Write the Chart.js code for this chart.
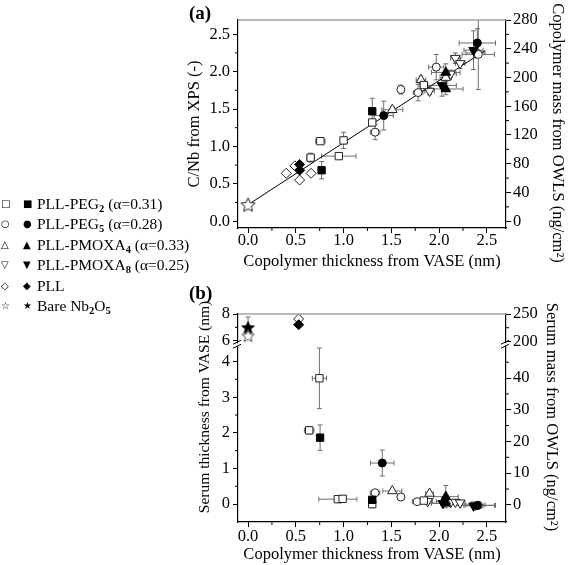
<!DOCTYPE html>
<html><head><meta charset="utf-8">
<script src="https://cdn.jsdelivr.net/npm/chart.js@4.4.0/dist/chart.umd.min.js"></script>
<style>
html,body{margin:0;padding:0;background:#fff;width:568px;height:565px;overflow:hidden;font-family:"Liberation Serif","Times New Roman",serif;}
#wrapA{position:absolute;left:0;top:0;width:568px;height:280px;}
#wrapB{position:absolute;left:0;top:280px;width:568px;height:285px;}
.plab{position:absolute;font-weight:bold;font-size:19px;line-height:20px;}
.row{position:absolute;left:0;height:20px;line-height:20px;white-space:nowrap;font-size:15.5px;}
.sym{position:absolute;top:0;font-family:"DejaVu Sans";font-size:10px;line-height:20px;}
.txt{position:absolute;left:37px;top:0;}
sub{font-size:10.5px;font-weight:bold;vertical-align:-3px;line-height:0;}
</style></head><body>
<div id="wrapA"><canvas id="cA" width="568" height="280"></canvas></div>
<div id="wrapB"><canvas id="cB" width="568" height="285"></canvas></div>
<div class="plab" style="left:189px;top:3px;">(a)</div>
<div class="plab" style="left:189px;top:283px;">(b)</div>
<div id="legend"></div>
<script>
// ---------------- tick labels ----------------
const xTicks = [0, 0.5, 1.0, 1.5, 2.0, 2.5];
const cnbTicks = [0, 0.5, 1.0, 1.5, 2.0, 2.5];
const massTicksA = [0, 40, 80, 120, 160, 200, 240, 280];
const serumTicksLow = [0, 1, 2, 3, 4];
const serumTicksHigh = [6, 8];
const serumMassLow = [0, 10, 20, 30, 40];
const serumMassHigh = [200, 250];

// ---------------- legend ----------------
const legendOpen = ['\u25A1', '\u25CB', '\u25B3', '\u25BD', '\u25C7', '\u2606'];
const legendFilled = ['\u25A0', '\u25CF', '\u25B2', '\u25BC', '\u25C6', '\u2605'];
const legendLabels = ['PLL-PEG<sub>2</sub> (\u03B1=0.31)', 'PLL-PEG<sub>5</sub> (\u03B1=0.28)',
  'PLL-PMOXA<sub>4</sub> (\u03B1=0.33)', 'PLL-PMOXA<sub>8</sub> (\u03B1=0.25)', 'PLL', 'Bare Nb<sub>2</sub>O<sub>5</sub>'];

// ---------------- panel (a): C/Nb (open, left) & copolymer mass (filled, right) ----------------
const fitX = [0, 2.48];
const fitY = [0.22, 2.28];

const a_peg2_x = [0.655, 0.757, 0.95, 1.00, 1.30, 1.84];
const a_peg2_y = [0.85, 1.07, 0.87, 1.08, 1.32, 1.82];
const a_peg2_ex = [0.04, 0.05, 0.18, 0.03, 0.03, 0.04];
const a_peg2_ey = [0.06, 0.03, 0.03, 0.11, 0.04, 0.04];
const a_peg2f_x = [0.77, 1.30];
const a_peg2f_m = [71, 153];
const a_peg2f_ex = [0.02, 0.02];
const a_peg2f_em = [12, 18];

const a_peg5_x = [1.33, 1.60, 1.78, 1.97, 2.41];
const a_peg5_y = [1.19, 1.76, 1.72, 2.06, 2.23];
const a_peg5_ex = [0.05, 0.02, 0.05, 0.08, 0.17];
const a_peg5_ey = [0.10, 0.06, 0.11, 0.17, 0.47];
const a_peg5f_x = [1.42, 2.40];
const a_peg5f_m = [147, 248];
const a_peg5f_ex = [0.10, 0.19];
const a_peg5f_em = [20, 20];

const a_mox4_x = [1.51, 1.81, 2.07];
const a_mox4_y = [1.49, 1.89, 1.92];
const a_mox4_ex = [0.11, 0.05, 0.06];
const a_mox4_ey = [0.04, 0.05, 0.05];
const a_mox4f_x = [2.07, 2.07];
const a_mox4f_m = [207, 184];
const a_mox4f_ex = [0.15, 0.18];
const a_mox4f_em = [12, 8];

const a_mox8_x = [1.90, 2.12, 2.17, 2.22, 2.38];
const a_mox8_y = [1.74, 1.97, 2.18, 2.11, 2.25];
const a_mox8_ex = [0.05, 0.06, 0.05, 0.05, 0.10];
const a_mox8_ey = [0.05, 0.05, 0.07, 0.07, 0.05];
const a_mox8f_x = [2.03, 2.36];
const a_mox8f_m = [189, 238];
const a_mox8f_ex = [0.15, 0.10];
const a_mox8f_em = [15, 27];

const a_pll_x = [0.40, 0.49, 0.54, 0.66];
const a_pll_y = [0.64, 0.74, 0.55, 0.64];
const a_pll_ex = [0.02, 0.02, 0.02, 0.02];
const a_pll_ey = [0.02, 0.02, 0.03, 0.02];
const a_pllf_x = [0.54, 0.54];
const a_pllf_m = [79, 71];
const a_pllf_ex = [0.02, 0.02];
const a_pllf_em = [3, 3];

const a_bare_x = [0];
const a_bare_y = [0.22];
const a_baref_x = [0];
const a_baref_m = [23];

// ---------------- panel (b): serum thickness (open, left) & serum mass (filled, right) ----------------
const b_peg2_x = [0.64, 0.747, 0.94, 0.99, 1.30, 1.84];
const b_peg2_y = [2.07, 3.53, 0.14, 0.15, 0.00, 0.10];
const b_peg2_ex = [0.05, 0.074, 0.20, 0.03, 0.02, 0.05];
const b_peg2_ey = [0.10, 0.85, 0.02, 0.02, 0.10, 0.03];
const b_peg2f_x = [0.754, 1.30];
const b_peg2f_m = [21.2, 1.6];
const b_peg2f_ex = [0.02, 0.02];
const b_peg2f_em = [4.0, 1.0];

const b_peg5_x = [1.33, 1.60, 1.77, 2.41];
const b_peg5_y = [0.32, 0.20, 0.07, -0.03];
const b_peg5_ex = [0.05, 0.02, 0.05, 0.18];
const b_peg5_ey = [0.04, 0.03, 0.03, 0.03];
const b_peg5f_x = [1.405, 2.40];
const b_peg5f_m = [13.2, -0.2];
const b_peg5f_ex = [0.123, 0.18];
const b_peg5f_em = [4.1, 0.5];

const b_mox4_x = [1.51, 1.90, 2.07];
const b_mox4_y = [0.37, 0.30, 0.08];
const b_mox4_ex = [0.10, 0.04, 0.10];
const b_mox4_ey = [0.03, 0.03, 0.03];
const b_mox4f_x = [2.07, 2.07];
const b_mox4f_m = [2.6, 0.5];
const b_mox4f_ex = [0.13, 0.15];
const b_mox4f_em = [3.5, 0.5];

const b_mox8_x = [1.88, 2.12, 2.17, 2.22, 2.38];
const b_mox8_y = [0.08, 0.05, 0.06, 0.04, -0.02];
const b_mox8_ex = [0.05, 0.06, 0.05, 0.05, 0.10];
const b_mox8_ey = [0.02, 0.02, 0.02, 0.02, 0.02];
const b_mox8f_x = [2.04, 2.36];
const b_mox8f_m = [0.5, -0.3];
const b_mox8f_ex = [0.15, 0.10];
const b_mox8f_em = [0.5, 0.5];

const b_pll_x = [0.53];
const b_pll_y = [7.63];
const b_pllf_x = [0.53];
const b_pllf_m = [230.5];

const b_bare_x = [0];
const b_bare_y = [6.37];
const b_bare_ey = [0.15];
const b_baref_x = [0];
const b_baref_m = [225.5];
const b_baref_em = [19];

// ---------------- helpers ----------------
const FONT = '"Liberation Serif", "Times New Roman", serif';
const FS = 16.5;

document.getElementById('legend').innerHTML = legendLabels.map((t, i) => {
  const top = 194 + i * 20.4;
  return `<div class="row" style="top:${top}px"><span class="sym" style="left:1px">${legendOpen[i]}</span>` +
    `<span class="sym" style="left:23px">${legendFilled[i]}</span><span class="txt">${t}</span></div>`;
}).join('');

function starCanvas(size, filled) {
  const c = document.createElement('canvas'); c.width = size; c.height = size;
  const g = c.getContext('2d');
  const cx = size / 2, cy = size / 2 + 0.6, R = size / 2 - 1, r = R * 0.45;
  g.beginPath();
  for (let k = 0; k < 10; k++) {
    const ang = -Math.PI / 2 + k * Math.PI / 5, rr = k % 2 ? r : R;
    g.lineTo(cx + rr * Math.cos(ang), cy + rr * Math.sin(ang));
  }
  g.closePath();
  g.fillStyle = filled ? '#000' : '#fff'; g.fill();
  g.strokeStyle = filled ? '#000' : '#444'; g.lineWidth = 1; g.stroke();
  return c;
}

function mk(xs, ys, ex, ey, style, filled, yAxisID, r, rot) {
  return {
    data: xs.map((x, i) => ({x, y: ys[i]})),
    errX: ex || null, errY: ey || null,
    xAxisID: 'x', yAxisID,
    pointStyle: style, pointRadius: r, pointHoverRadius: r, pointRotation: rot || 0,
    pointBackgroundColor: filled ? '#000' : '#fff',
    pointBorderColor: filled ? '#000' : '#222', pointBorderWidth: 1, showLine: false
  };
}

const errorBars = {
  id: 'errorBars',
  beforeDatasetsDraw(chart) {
    const ctx = chart.ctx, a = chart.chartArea;
    ctx.save();
    ctx.beginPath(); ctx.rect(a.left, a.top, a.right - a.left, a.bottom - a.top); ctx.clip();
    ctx.strokeStyle = '#6e6e6e'; ctx.lineWidth = 1;
    chart.data.datasets.forEach(d => {
      if (!d.errX && !d.errY) return;
      const xs = chart.scales[d.xAxisID], ys = chart.scales[d.yAxisID];
      d.data.forEach((p, i) => {
        const px = xs.getPixelForValue(p.x), py = ys.getPixelForValue(p.y);
        ctx.beginPath();
        if (d.errX && d.errX[i]) {
          const x1 = xs.getPixelForValue(p.x - d.errX[i]), x2 = xs.getPixelForValue(p.x + d.errX[i]);
          ctx.moveTo(x1, py); ctx.lineTo(x2, py);
          ctx.moveTo(x1, py - 2.5); ctx.lineTo(x1, py + 2.5);
          ctx.moveTo(x2, py - 2.5); ctx.lineTo(x2, py + 2.5);
        }
        if (d.errY && d.errY[i]) {
          const y1 = ys.getPixelForValue(p.y - d.errY[i]), y2 = ys.getPixelForValue(p.y + d.errY[i]);
          ctx.moveTo(px, y1); ctx.lineTo(px, y2);
          ctx.moveTo(px - 2.5, y1); ctx.lineTo(px + 2.5, y1);
          ctx.moveTo(px - 2.5, y2); ctx.lineTo(px + 2.5, y2);
        }
        ctx.stroke();
      });
    });
    ctx.restore();
  }
};

const decor = {
  id: 'decor',
  afterDraw(chart, args, opts) {
    const ctx = chart.ctx, a = chart.chartArea;
    ctx.save();
    // minor ticks
    ctx.strokeStyle = '#000'; ctx.lineWidth = 1;
    const steps = opts.minor || {};
    for (const id in steps) {
      const s = chart.scales[id]; if (!s) continue;
      const step = steps[id];
      const majors = s.ticks.map(t => t.value);
      const start = Math.ceil(s.min / step - 1e-9) * step;
      for (let v = start; v <= s.max + 1e-9; v += step) {
        if (majors.some(m => Math.abs(m - v) < step * 1e-3)) continue;
        const p = s.getPixelForValue(v);
        ctx.beginPath();
        if (s.isHorizontal()) {
          if (p < s.left + 2 || p > s.right - 2) continue;
          ctx.moveTo(p, s.top); ctx.lineTo(p, s.top + 3);
        } else {
          if (p < s.top + 3 || p > s.bottom - 3) continue;
          if (s.position === 'left') { ctx.moveTo(s.right, p); ctx.lineTo(s.right - 3, p); }
          else { ctx.moveTo(s.left, p); ctx.lineTo(s.left + 3, p); }
        }
        ctx.stroke();
      }
    }
    // grey top frame line
    ctx.strokeStyle = '#a0a0a0'; ctx.lineWidth = 1.5;
    ctx.beginPath(); ctx.moveTo(a.left, a.top); ctx.lineTo(a.right, a.top); ctx.stroke();
    // axis breaks
    if (opts.breakScale) {
      const yb = chart.scales[opts.breakScale].bottom;
      [a.left, a.right].forEach(x => {
        ctx.fillStyle = '#fff'; ctx.fillRect(x - 1.5, yb - 1.5, 3, 3);
        ctx.strokeStyle = '#000'; ctx.lineWidth = 1;
        ctx.beginPath();
        ctx.moveTo(x - 5, yb - 0.5); ctx.lineTo(x + 3, yb - 4.5);
        ctx.moveTo(x - 5, yb + 3.5); ctx.lineTo(x + 3, yb - 0.5);
        ctx.stroke();
      });
    }
    // extra axis titles
    (opts.titles || []).forEach(t => {
      ctx.save(); ctx.translate(t.x, t.y); ctx.rotate(t.rot);
      ctx.font = `${t.size || FS}px ${FONT}`; ctx.fillStyle = '#000';
      ctx.textAlign = 'center'; ctx.textBaseline = 'middle';
      ctx.fillText(t.text, 0, 0); ctx.restore();
    });
    ctx.restore();
  }
};

function setTicks(arr) { return s => { s.ticks = arr.map(v => ({value: v})); }; }
function fixW(w) { return s => { s.width = w; }; }
function fixH(h) { return s => { s.height = h; }; }
const gridOpts = {drawOnChartArea: false, drawTicks: true, tickLength: 5, tickColor: '#000', color: '#000'};
const borderOpts = {display: true, color: '#000', width: 1.2};
const tickFont = {family: FONT, size: FS};
const titleFont = {family: FONT, size: FS};
function tk(pad, cb) { return {font: tickFont, color: '#000', padding: pad, autoSkip: false, maxRotation: 0, callback: cb}; }
const f1 = v => v.toFixed(1);
const f0 = v => String(v);

// ---------------- chart (a) ----------------
new Chart(document.getElementById('cA'), {
  type: 'scatter',
  data: {datasets: [
    mk(a_bare_x, a_bare_y, null, null, starCanvas(17, false), false, 'y', 8),
    mk(a_baref_x, a_baref_m, null, null, starCanvas(15, true), true, 'y2', 7),
    mk(a_peg2f_x, a_peg2f_m, a_peg2f_ex, a_peg2f_em, 'rect', true, 'y2', 5.2),
    mk(a_peg5f_x, a_peg5f_m, a_peg5f_ex, a_peg5f_em, 'circle', true, 'y2', 4),
    mk(a_mox4f_x, a_mox4f_m, a_mox4f_ex, a_mox4f_em, 'triangle', true, 'y2', 5.5),
    mk(a_mox8f_x, a_mox8f_m, a_mox8f_ex, a_mox8f_em, 'triangle', true, 'y2', 5.5, 180),
    mk(a_pllf_x, a_pllf_m, a_pllf_ex, a_pllf_em, 'rectRot', true, 'y2', 5),
    mk(a_peg2_x, a_peg2_y, a_peg2_ex, a_peg2_ey, 'rect', false, 'y', 5.2),
    mk(a_peg5_x, a_peg5_y, a_peg5_ex, a_peg5_ey, 'circle', false, 'y', 4),
    mk(a_mox4_x, a_mox4_y, a_mox4_ex, a_mox4_ey, 'triangle', false, 'y', 5.5),
    mk(a_mox8_x, a_mox8_y, a_mox8_ex, a_mox8_ey, 'triangle', false, 'y', 5.5, 180),
    mk(a_pll_x, a_pll_y, a_pll_ex, a_pll_ey, 'rectRot', false, 'y', 5),
    {data: fitX.map((x, i) => ({x, y: fitY[i]})), xAxisID: 'x', yAxisID: 'y', showLine: true,
     borderColor: '#000', borderWidth: 1, pointRadius: 0, fill: false}
  ]},
  options: {
    responsive: false, animation: false, devicePixelRatio: 1, events: [],
    layout: {padding: {left: 178, right: 0, top: 20, bottom: 0}},
    plugins: {legend: {display: false}, tooltip: {enabled: false},
      decor: {minor: {x: 0.25, y: 0.25, y2: 20},
        titles: [{text: 'Copolymer mass from OWLS (ng/cm\u00B2)', x: 557, y: 133, rot: Math.PI / 2}]}},
    scales: {
      x: {type: 'linear', position: 'bottom', min: -0.105, max: 2.70, afterBuildTicks: setTicks(xTicks), afterFit: fixH(52),
        grid: gridOpts, border: borderOpts, ticks: tk(-2, f1),
        title: {display: true, text: 'Copolymer thickness from VASE (nm)', font: titleFont, color: '#000', padding: {top: 0, bottom: 8}}},
      y: {type: 'linear', position: 'left', min: -0.091, max: 2.69, afterBuildTicks: setTicks(cnbTicks), afterFit: fixW(60),
        grid: gridOpts, border: borderOpts, ticks: tk(3, f1),
        title: {display: true, text: 'C/Nb from XPS (-)', font: titleFont, color: '#000', padding: {top: 7, bottom: 0}}},
      y2: {type: 'linear', position: 'right', min: -9.4, max: 280, afterBuildTicks: setTicks(massTicksA), afterFit: fixW(62),
        grid: gridOpts, border: borderOpts, ticks: tk(2, f0)}
    }
  },
  plugins: [errorBars, decor]
});

// ---------------- chart (b) ----------------
new Chart(document.getElementById('cB'), {
  type: 'scatter',
  data: {datasets: [
    mk(b_bare_x, b_bare_y, null, b_bare_ey, starCanvas(15, false), false, 'yLU', 7),
    mk(b_baref_x, b_baref_m, null, b_baref_em, starCanvas(15, true), true, 'yRU', 7),
    mk(b_pllf_x, b_pllf_m, null, null, 'rectRot', true, 'yRU', 5),
    mk(b_pll_x, b_pll_y, null, null, 'rectRot', false, 'yLU', 5),
    mk(b_peg2f_x, b_peg2f_m, b_peg2f_ex, b_peg2f_em, 'rect', true, 'yR', 5.2),
    mk(b_peg5f_x, b_peg5f_m, b_peg5f_ex, b_peg5f_em, 'circle', true, 'yR', 4),
    mk(b_mox4f_x, b_mox4f_m, b_mox4f_ex, b_mox4f_em, 'triangle', true, 'yR', 5.5),
    mk(b_mox8f_x, b_mox8f_m, b_mox8f_ex, b_mox8f_em, 'triangle', true, 'yR', 5.5, 180),
    mk(b_peg2_x, b_peg2_y, b_peg2_ex, b_peg2_ey, 'rect', false, 'yL', 5.2),
    mk(b_peg5_x, b_peg5_y, b_peg5_ex, b_peg5_ey, 'circle', false, 'yL', 4),
    mk(b_mox4_x, b_mox4_y, b_mox4_ex, b_mox4_ey, 'triangle', false, 'yL', 5.5),
    mk(b_mox8_x, b_mox8_y, b_mox8_ex, b_mox8_ey, 'triangle', false, 'yL', 5.5, 180)
  ]},
  options: {
    responsive: false, animation: false, devicePixelRatio: 1, events: [],
    layout: {padding: {left: 178, right: 0, top: 34, bottom: 0}},
    plugins: {legend: {display: false}, tooltip: {enabled: false},
      decor: {minor: {x: 0.25, yL: 0.5, yLU: 1, yR: 5, yRU: 25}, breakScale: 'yLU',
        titles: [
          {text: 'Serum thickness from VASE (nm)', x: 205, y: 127, rot: -Math.PI / 2, size: 15.5},
          {text: 'Serum mass from OWLS (ng/cm\u00B2)', x: 551, y: 137, rot: Math.PI / 2}
        ]}},
    scales: {
      x: {type: 'linear', position: 'bottom', min: -0.105, max: 2.70, afterBuildTicks: setTicks(xTicks), afterFit: fixH(43),
        grid: gridOpts, border: borderOpts, ticks: tk(0, f1),
        title: {display: true, text: 'Copolymer thickness from VASE (nm)', font: titleFont, color: '#000', padding: {top: 0, bottom: 0}}},
      yLU: {type: 'linear', position: 'left', stack: 'L', stackWeight: 30.7, weight: 2, min: 5.7, max: 8,
        afterBuildTicks: setTicks(serumTicksHigh), afterFit: fixW(60), grid: gridOpts, border: borderOpts, ticks: tk(3, f0)},
      yL: {type: 'linear', position: 'left', stack: 'L', stackWeight: 177, weight: 1, min: -0.5, max: 4.47,
        afterBuildTicks: setTicks(serumTicksLow), afterFit: fixW(60), grid: gridOpts, border: borderOpts, ticks: tk(3, f0)},
      yRU: {type: 'linear', position: 'right', stack: 'R', stackWeight: 30.7, weight: 1, min: 194, max: 250,
        afterBuildTicks: setTicks(serumMassHigh), afterFit: fixW(62), grid: gridOpts, border: borderOpts, ticks: tk(2, f0)},
      yR: {type: 'linear', position: 'right', stack: 'R', stackWeight: 177, weight: 2, min: -5.4, max: 50.5,
        afterBuildTicks: setTicks(serumMassLow), afterFit: fixW(62), grid: gridOpts, border: borderOpts, ticks: tk(2, f0)}
    }
  },
  plugins: [errorBars, decor]
});
</script>
</body></html>
